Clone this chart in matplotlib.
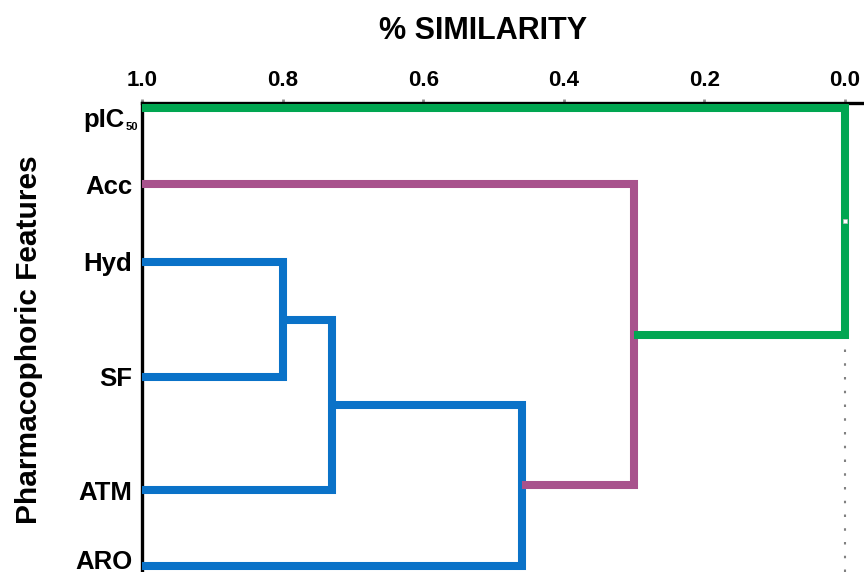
# dendrogram of pharmacophoric features, % similarity on a reversed top axis

import matplotlib.pyplot as plt
from matplotlib.transforms import ScaledTranslation

plt.rcParams['font.family'] = ['Liberation Sans', 'DejaVu Sans']
plt.rcParams['font.weight'] = 'bold'

# leaves, top to bottom (first one gets a subscript 50)
leaves = ["pIC", "Acc", "Hyd", "SF", "ATM", "ARO"]

# merges: (left node, right node, similarity); new nodes get ids 6, 7, ...
merge_a = [2, 6, 7, 1, 0]
merge_b = [3, 4, 5, 8, 9]
merge_sim = [0.80, 0.73, 0.46, 0.30, 0.0]
merge_col = ["#0a72c8", "#0a72c8", "#0a72c8", "#a8528c", "#00a651"]

xticks = [1.0, 0.8, 0.6, 0.4, 0.2, 0.0]

# layout: leaf positions down from the top spine
leaf_pos = [5, 81, 159, 274, 387, 463]

fig = plt.figure(figsize=(8.64, 5.72), dpi=100)
ax = fig.add_axes([142/864, 0.0, 1 - 142/864, (572 - 103)/572])

pos = list(leaf_pos)
sim = [1.0]*len(leaves)

for a, b, s, c in zip(merge_a, merge_b, merge_sim, merge_col):
    ya, yb = pos[a], pos[b]
    ax.plot([sim[a], s, s, sim[b]], [ya, ya, yb, yb], color=c, lw=5.8,
            solid_joinstyle='miter', solid_capstyle='butt', zorder=3)
    pos.append(0.5*(ya + yb))
    sim.append(s)

# little node mark at the root
ax.plot([sim[-1]], [pos[-1]], marker='s', ms=2.5, color='white',
        mec='#bbbbbb', mew=0.5, zorder=4)

ax.axvline(0.0, color='#808080', lw=1.5, ls=(0, (1.2, 5.4)), zorder=1)

ax.set_xlim(1.0, -0.027)
ax.set_ylim(469, 0)

ax.xaxis.tick_top()
ax.set_xticks(xticks)
ax.set_xticklabels([f"{t:.1f}" for t in xticks], fontsize=16, fontweight='bold')
ax.tick_params(axis='x', direction='inout', length=6, width=2,
               color='#909090', pad=6)

ax.set_yticks(leaf_pos)
ax.set_yticklabels([""] + leaves[1:], fontsize=18.5, fontweight='bold')
ax.tick_params(axis='y', length=0, pad=7)

# bottom label sits a little higher so it is not clipped
last = ax.get_yticklabels()[-1]
last.set_transform(last.get_transform() +
                   ScaledTranslation(0, 5/72, fig.dpi_scale_trans))

# pIC with small subscript 50, set a bit below its branch
ax.annotate(leaves[0], xy=(0, leaf_pos[0]), xycoords=('axes fraction', 'data'),
            xytext=(-12.5, -9), textcoords='offset points', ha='right',
            va='center', fontsize=18.5, fontweight='bold')
ax.annotate("50", xy=(0, leaf_pos[0]), xycoords=('axes fraction', 'data'),
            xytext=(-3, -14), textcoords='offset points', ha='right',
            va='center', fontsize=8, fontweight='bold')

for side in ['right', 'bottom']:
    ax.spines[side].set_visible(False)
for side in ['top', 'left']:
    ax.spines[side].set_linewidth(2.4)
    ax.spines[side].set_color('black')

fig.text(483/864, 1 - 31/572, "% SIMILARITY", ha='center', va='center',
         fontsize=22, fontweight='bold')
fig.text(29/864, 1 - 340/572, "Pharmacophoric Features", ha='center',
         va='center', rotation=90, fontsize=21.5, fontweight='bold')

plt.savefig("out.png", dpi=100)
